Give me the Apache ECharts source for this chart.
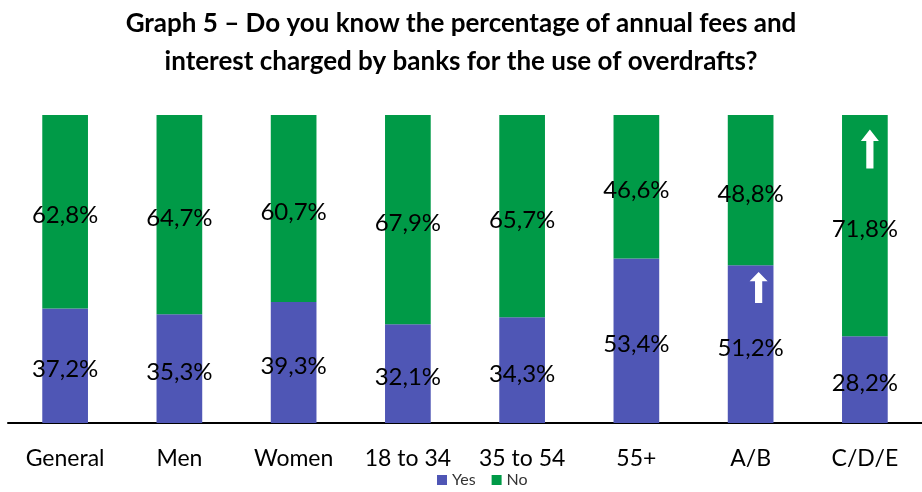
<!DOCTYPE html>
<html><head><meta charset="utf-8">
<script src="https://cdn.jsdelivr.net/npm/echarts@6/dist/echarts.min.js"></script>
<style>html,body{margin:0;padding:0;background:#fff}#c{width:922px;height:492px}</style>
</head><body><div id="c"></div>
<script>
const categories = ['General','Men','Women','18 to 34','35 to 54','55+','A/B','C/D/E'];
const yesValues = [37.2, 35.3, 39.3, 32.1, 34.3, 53.4, 51.2, 28.2];
const noValues  = [62.8, 64.7, 60.7, 67.9, 65.7, 46.6, 48.8, 71.8];
const titleText = 'Graph 5 – Do you know the percentage of annual fees and\ninterest charged by banks for the use of overdrafts?';
// arrow markers: [category, value position]
const yesArrows = [['A/B', 44]];
const noArrows = [['C/D/E', 89]];

const arrowPath = 'path://M5,0 L10,6 L7,6 L7,20 L3,20 L3,6 L0,6 Z';
const FONT = 'Lato';
const fmt = p => p.value.toFixed(1).replace('.', ',') + '%';

const chart = echarts.init(document.getElementById('c'), null, {renderer:'canvas'});
chart.setOption({
  animation: false,
  title: {
    text: titleText, left: 'center', top: 0,
    textStyle: {fontFamily: FONT, fontWeight: 'bold', fontSize: 26, color: '#000', lineHeight: 38}
  },
  legend: {
    bottom: -1, left: 432, itemWidth: 10, itemHeight: 10, itemGap: 16,
    icon: 'rect',
    textStyle: {fontFamily: FONT, fontSize: 16, color: '#333'},
    data: ['Yes','No']
  },
  grid: {left: 8, right: -13, top: 115, bottom: 69, containLabel: false},
  xAxis: {
    type: 'category', data: categories,
    axisLine: {lineStyle: {color: '#000', width: 2}},
    axisTick: {show: false},
    axisLabel: {fontFamily: FONT, fontSize: 23, color: '#000', margin: 24}
  },
  yAxis: {type: 'value', min: 0, max: 100, show: false},
  series: [
    {
      name: 'Yes', type: 'bar', stack: 'a', barWidth: '40%', data: yesValues,
      itemStyle: {color: '#4F56B5'},
      label: {show: true, position: 'inside', offset: [0, 4], formatter: fmt,
              fontFamily: FONT, fontSize: 24, color: '#000'},
      markPoint: {
        symbol: arrowPath, symbolSize: [18, 31], symbolOffset: [8, 0],
        itemStyle: {color: '#fff'}, label: {show: false},
        data: yesArrows.map(a => ({coord: a}))
      }
    },
    {
      name: 'No', type: 'bar', stack: 'a', barWidth: '40%', data: noValues,
      itemStyle: {color: '#009A47'},
      label: {show: true, position: 'inside', offset: [0, 4], formatter: fmt,
              fontFamily: FONT, fontSize: 24, color: '#000'},
      markPoint: {
        symbol: arrowPath, symbolSize: [18, 39], symbolOffset: [5, 0],
        itemStyle: {color: '#fff'}, label: {show: false},
        data: noArrows.map(a => ({coord: a}))
      }
    }
  ]
});
</script></body></html>
